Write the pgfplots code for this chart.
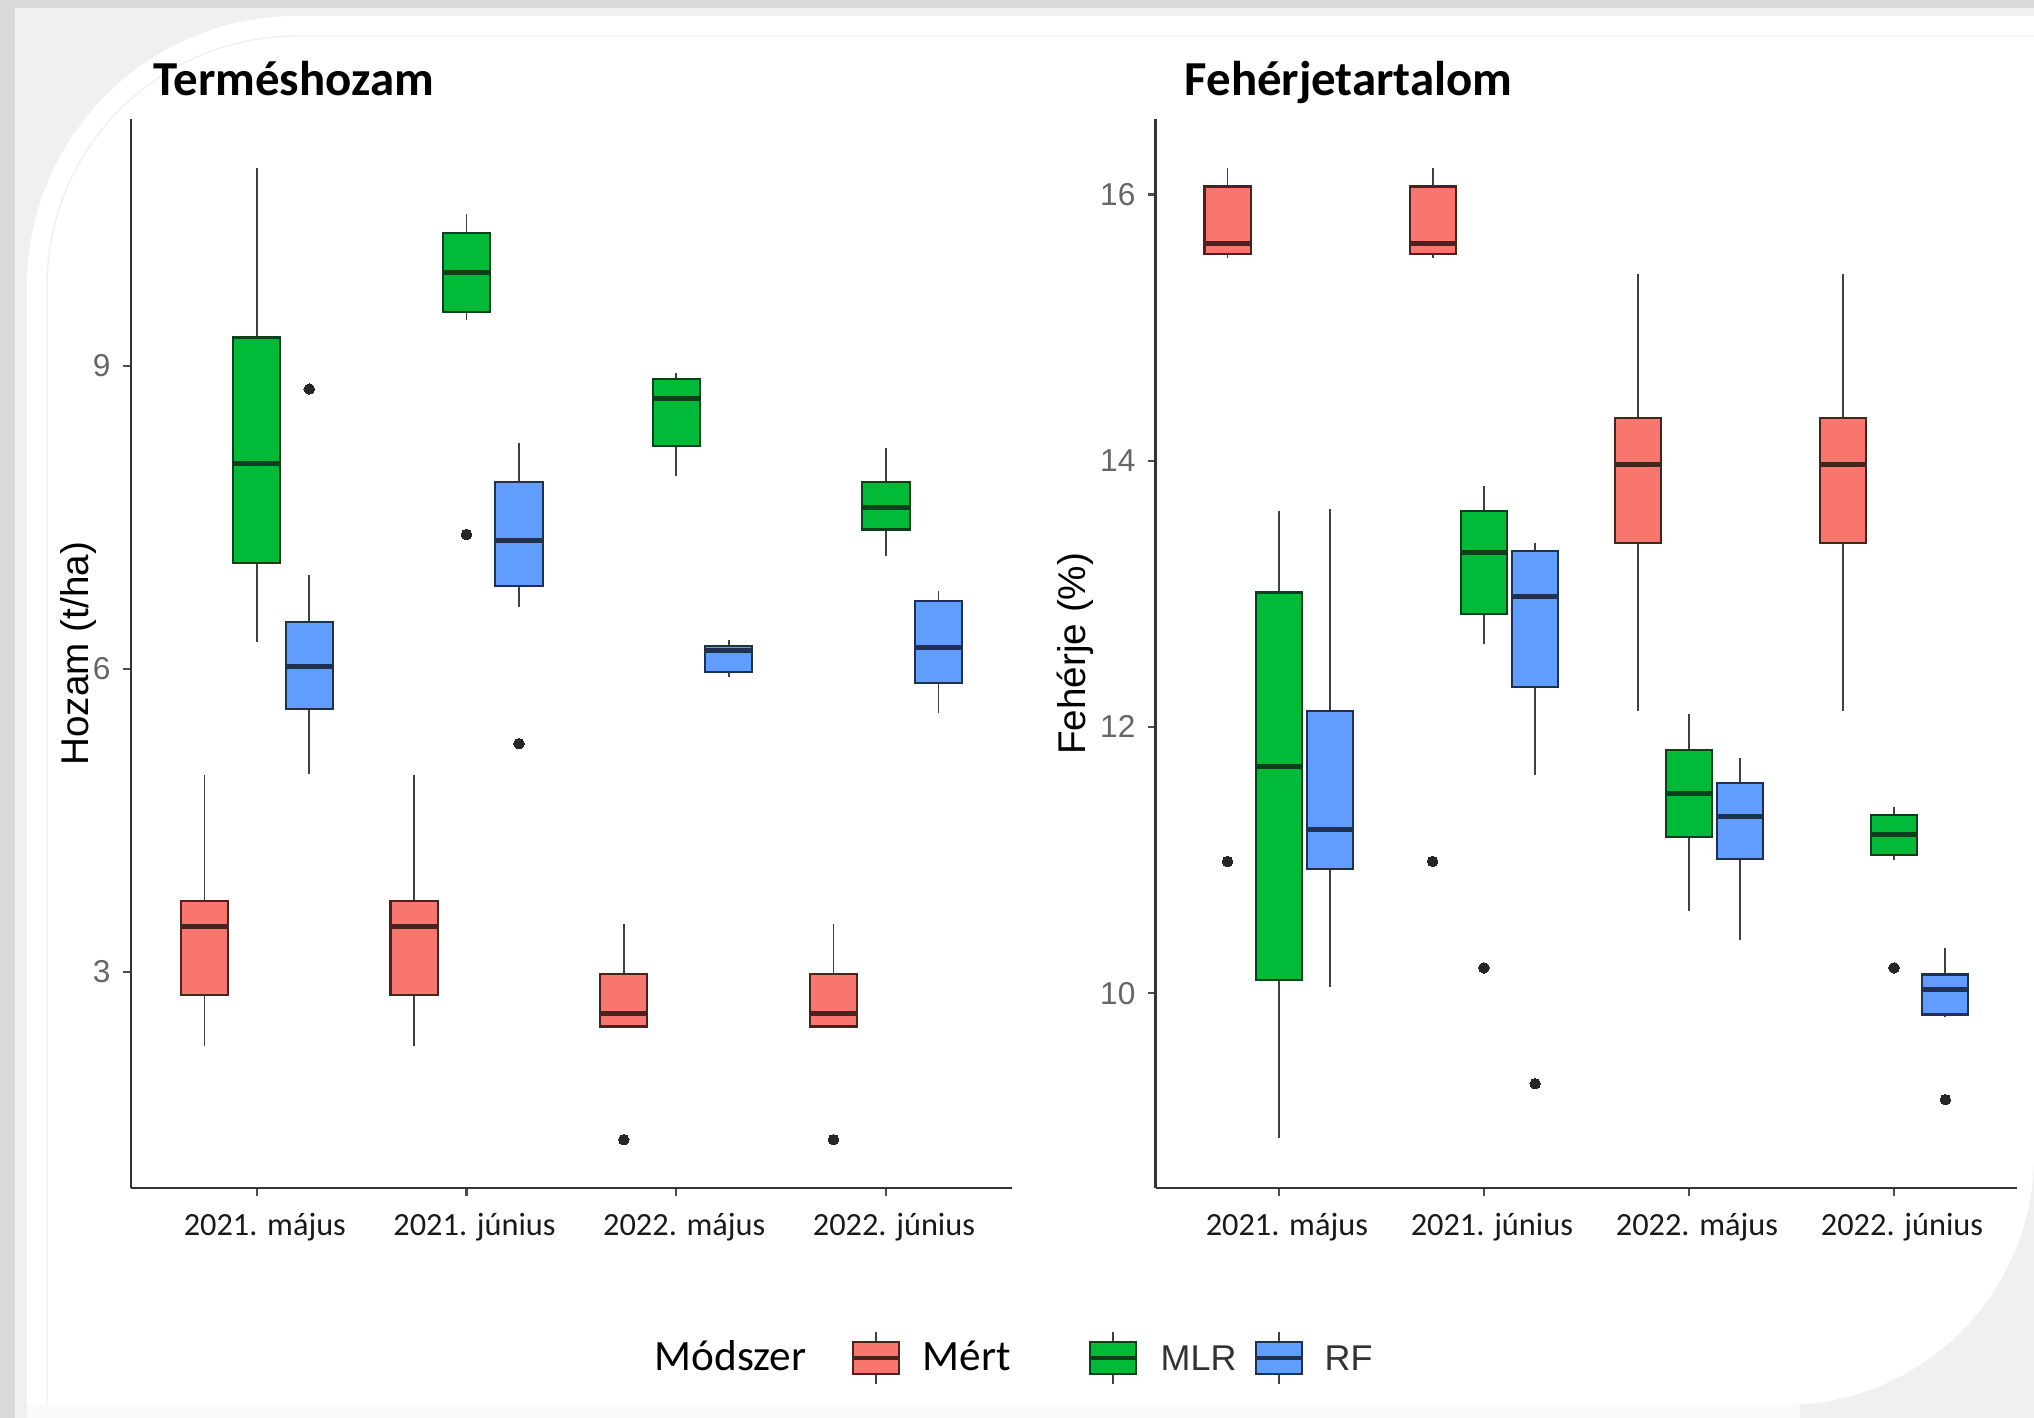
\documentclass[border=0pt]{standalone}
\usepackage{fontspec}
\setmainfont{Carlito}
\newfontfamily\lib{Liberation Sans}
\usepackage{pgfplots}
\pgfplotsset{compat=1.18}
\usepgfplotslibrary{statistics}
\definecolor{mert}{HTML}{F8766D}
\definecolor{mlr}{HTML}{00BA38}
\definecolor{rf}{HTML}{619CFF}
\definecolor{mertd}{HTML}{4A2220}
\definecolor{mlrd}{HTML}{0C3F1B}
\definecolor{rfd}{HTML}{1F3152}
\pgfplotsset{
  gg/.style={
    scale only axis,
    anchor=south west,
    xmin=0.4, xmax=4.6,
    xtick={1,2,3,4},
    xticklabels={2021. május, 2021. június, 2022. május, 2022. június},
    axis x line*=bottom, axis y line*=left,
    axis line style={-, line width=0.75pt, black!80},
    tick align=outside, xtick pos=bottom, ytick pos=left,
    major tick length=0.08cm,
    tick style={line width=0.6pt, black!70},
    /pgf/number format/assume math mode=true,
    xticklabel style={font=\fontsize{9.2}{11}\selectfont, text=black!90, xshift=0.08cm, yshift=-0.05cm},
    yticklabel style={font=\lib\fontsize{9}{11}\selectfont, text=black!60},
    ylabel style={font=\lib\fontsize{11}{13}\selectfont, text=black},
    boxplot/draw direction=y,
    boxplot/whisker extend=0,
    boxplot/box extend=0.225,
    boxplot/every whisker/.style={draw=black!75, line width=0.5pt},
    boxplot/every median/.style={line width=1.4pt},
    boxplot/every box/.style={line width=0.6pt},
  },
  bm/.style={fill=mert, draw=mertd, mark=*, mark size=1.5pt, mark options={fill=black!85, draw=black!85, line width=0pt}},
  bg/.style={fill=mlr, draw=mlrd, mark=*, mark size=1.5pt, mark options={fill=black!85, draw=black!85, line width=0pt}},
  bb/.style={fill=rf, draw=rfd, mark=*, mark size=1.5pt, mark options={fill=black!85, draw=black!85, line width=0pt}},
}
\begin{document}
\begin{tikzpicture}
\useasboundingbox (0,0) rectangle (20.34,14.18);
% frame
\fill[gray!30] (0,0) rectangle (20.34,14.18);
\fill[gray!12] (0.15,0) rectangle (20.34,14.1);
\fill[gray!4] (0.27,0) rectangle (18,0.13);
\fill[white] (0.27,0.13) -- (0.27,11.32) arc[start angle=180,end angle=90,radius=2.7] -- (20.34,14.02) -- (20.34,2.63) arc[start angle=0,end angle=-90,radius=2.5] -- cycle;
\draw[gray!12, line width=0.4pt] (0.47,0.13) -- (0.47,11.32) arc[start angle=180,end angle=90,radius=2.5] -- (20.34,13.82);
% titles
\node[anchor=base west, inner sep=0pt, font=\bfseries\fontsize{13.9}{15}\selectfont] at (1.53,13.22) {Terméshozam};
\node[anchor=base west, inner sep=0pt, font=\bfseries\fontsize{13.9}{15}\selectfont] at (11.84,13.22) {Fehérjetartalom};

% ---------- left panel ----------
\begin{axis}[gg, at={(1.31cm,2.298cm)}, width=8.808cm, height=10.689cm,
  ymin=0.86, ymax=11.44, ytick={3,6,9},
  ylabel={Hozam (t/ha)},
  ylabel style={at={(axis description cs:-0.060,0.5)}, anchor=center}]
% 2021. május
\addplot[bm, boxplot prepared={draw position=0.75, lower whisker=2.27, lower quartile=2.77, median=3.45, upper quartile=3.70, upper whisker=4.95}] coordinates {};
\addplot[bg, boxplot prepared={draw position=1.00, lower whisker=6.27, lower quartile=7.05, median=8.03, upper quartile=9.28, upper whisker=10.96}] coordinates {};
\addplot[bb, boxplot prepared={draw position=1.25, lower whisker=4.96, lower quartile=5.60, median=6.02, upper quartile=6.46, upper whisker=6.93}] table[row sep=\\, y index=0] {d\\ 8.77\\};
% 2021. június
\addplot[bm, boxplot prepared={draw position=1.75, lower whisker=2.27, lower quartile=2.77, median=3.45, upper quartile=3.70, upper whisker=4.95}] coordinates {};
\addplot[bg, boxplot prepared={draw position=2.00, lower whisker=9.45, lower quartile=9.53, median=9.92, upper quartile=10.31, upper whisker=10.50}] table[row sep=\\, y index=0] {d\\ 7.33\\};
\addplot[bb, boxplot prepared={draw position=2.25, lower whisker=6.61, lower quartile=6.82, median=7.27, upper quartile=7.85, upper whisker=8.24}] table[row sep=\\, y index=0] {d\\ 5.26\\};
% 2022. május
\addplot[bm, boxplot prepared={draw position=2.75, lower whisker=2.46, lower quartile=2.46, median=2.59, upper quartile=2.98, upper whisker=3.47}] table[row sep=\\, y index=0] {d\\ 1.34\\};
\addplot[bg, boxplot prepared={draw position=3.00, lower whisker=7.91, lower quartile=8.21, median=8.68, upper quartile=8.87, upper whisker=8.93}] coordinates {};
\addplot[bb, boxplot prepared={draw position=3.25, lower whisker=5.92, lower quartile=5.97, median=6.18, upper quartile=6.23, upper whisker=6.29}] coordinates {};
% 2022. június
\addplot[bm, boxplot prepared={draw position=3.75, lower whisker=2.46, lower quartile=2.46, median=2.59, upper quartile=2.98, upper whisker=3.47}] table[row sep=\\, y index=0] {d\\ 1.34\\};
\addplot[bg, boxplot prepared={draw position=4.00, lower whisker=7.12, lower quartile=7.38, median=7.60, upper quartile=7.85, upper whisker=8.19}] coordinates {};
\addplot[bb, boxplot prepared={draw position=4.25, lower whisker=5.56, lower quartile=5.86, median=6.21, upper quartile=6.67, upper whisker=6.77}] coordinates {};
\end{axis}

% ---------- right panel ----------
\begin{axis}[gg, at={(11.558cm,2.298cm)}, width=8.613cm, height=10.689cm,
  ymin=8.535, ymax=16.565, ytick={10,12,14,16},
  ylabel={Fehérje (\%)},
  ylabel style={at={(axis description cs:-0.094,0.5)}, anchor=center}]
% 2021. május
\addplot[bm, boxplot prepared={draw position=0.75, lower whisker=15.52, lower quartile=15.55, median=15.63, upper quartile=16.06, upper whisker=16.20}] table[row sep=\\, y index=0] {d\\ 10.99\\};
\addplot[bg, boxplot prepared={draw position=1.00, lower whisker=8.91, lower quartile=10.10, median=11.70, upper quartile=13.01, upper whisker=13.62}] coordinates {};
\addplot[bb, boxplot prepared={draw position=1.25, lower whisker=10.05, lower quartile=10.93, median=11.23, upper quartile=12.12, upper whisker=13.64}] coordinates {};
% 2021. június
\addplot[bm, boxplot prepared={draw position=1.75, lower whisker=15.52, lower quartile=15.55, median=15.63, upper quartile=16.06, upper whisker=16.20}] table[row sep=\\, y index=0] {d\\ 10.99\\};
\addplot[bg, boxplot prepared={draw position=2.00, lower whisker=12.62, lower quartile=12.85, median=13.31, upper quartile=13.62, upper whisker=13.81}] table[row sep=\\, y index=0] {d\\ 10.19\\};
\addplot[bb, boxplot prepared={draw position=2.25, lower whisker=11.64, lower quartile=12.30, median=12.98, upper quartile=13.32, upper whisker=13.38}] table[row sep=\\, y index=0] {d\\ 9.32\\};
% 2022. május
\addplot[bm, boxplot prepared={draw position=2.75, lower whisker=12.12, lower quartile=13.38, median=13.97, upper quartile=14.32, upper whisker=15.40}] coordinates {};
\addplot[bg, boxplot prepared={draw position=3.00, lower whisker=10.62, lower quartile=11.17, median=11.50, upper quartile=11.83, upper whisker=12.10}] coordinates {};
\addplot[bb, boxplot prepared={draw position=3.25, lower whisker=10.40, lower quartile=11.01, median=11.33, upper quartile=11.58, upper whisker=11.77}] coordinates {};
% 2022. június
\addplot[bm, boxplot prepared={draw position=3.75, lower whisker=12.12, lower quartile=13.38, median=13.97, upper quartile=14.32, upper whisker=15.40}] coordinates {};
\addplot[bg, boxplot prepared={draw position=4.00, lower whisker=11.00, lower quartile=11.04, median=11.19, upper quartile=11.34, upper whisker=11.40}] table[row sep=\\, y index=0] {d\\ 10.19\\};
\addplot[bb, boxplot prepared={draw position=4.25, lower whisker=9.82, lower quartile=9.84, median=10.03, upper quartile=10.14, upper whisker=10.34}] table[row sep=\\, y index=0] {d\\ 9.20\\};
\end{axis}

% ---------- legend ----------
\node[anchor=base west, inner sep=0pt, font=\fontsize{12.3}{14}\selectfont] at (6.54,0.47) {Módszer};
\foreach \cx/\fc/\dc in {8.76/mert/mertd, 11.13/mlr/mlrd, 12.79/rf/rfd}{
  \draw[black!75, line width=0.5pt] (\cx,0.34) -- (\cx,0.86);
  \filldraw[fill=\fc, draw=\dc, line width=0.6pt] (\cx-0.23,0.44) rectangle (\cx+0.23,0.76);
  \draw[\dc, line width=1.2pt] (\cx-0.23,0.60) -- (\cx+0.23,0.60);
}
\node[anchor=base west, inner sep=0pt, font=\fontsize{12.3}{14}\selectfont] at (9.22,0.47) {Mért};
\node[anchor=base west, inner sep=0pt, font=\lib\fontsize{10.2}{12}\selectfont, text=black!80] at (11.60,0.47) {MLR};
\node[anchor=base west, inner sep=0pt, font=\lib\fontsize{10.2}{12}\selectfont, text=black!80] at (13.24,0.47) {RF};
\end{tikzpicture}
\end{document}
